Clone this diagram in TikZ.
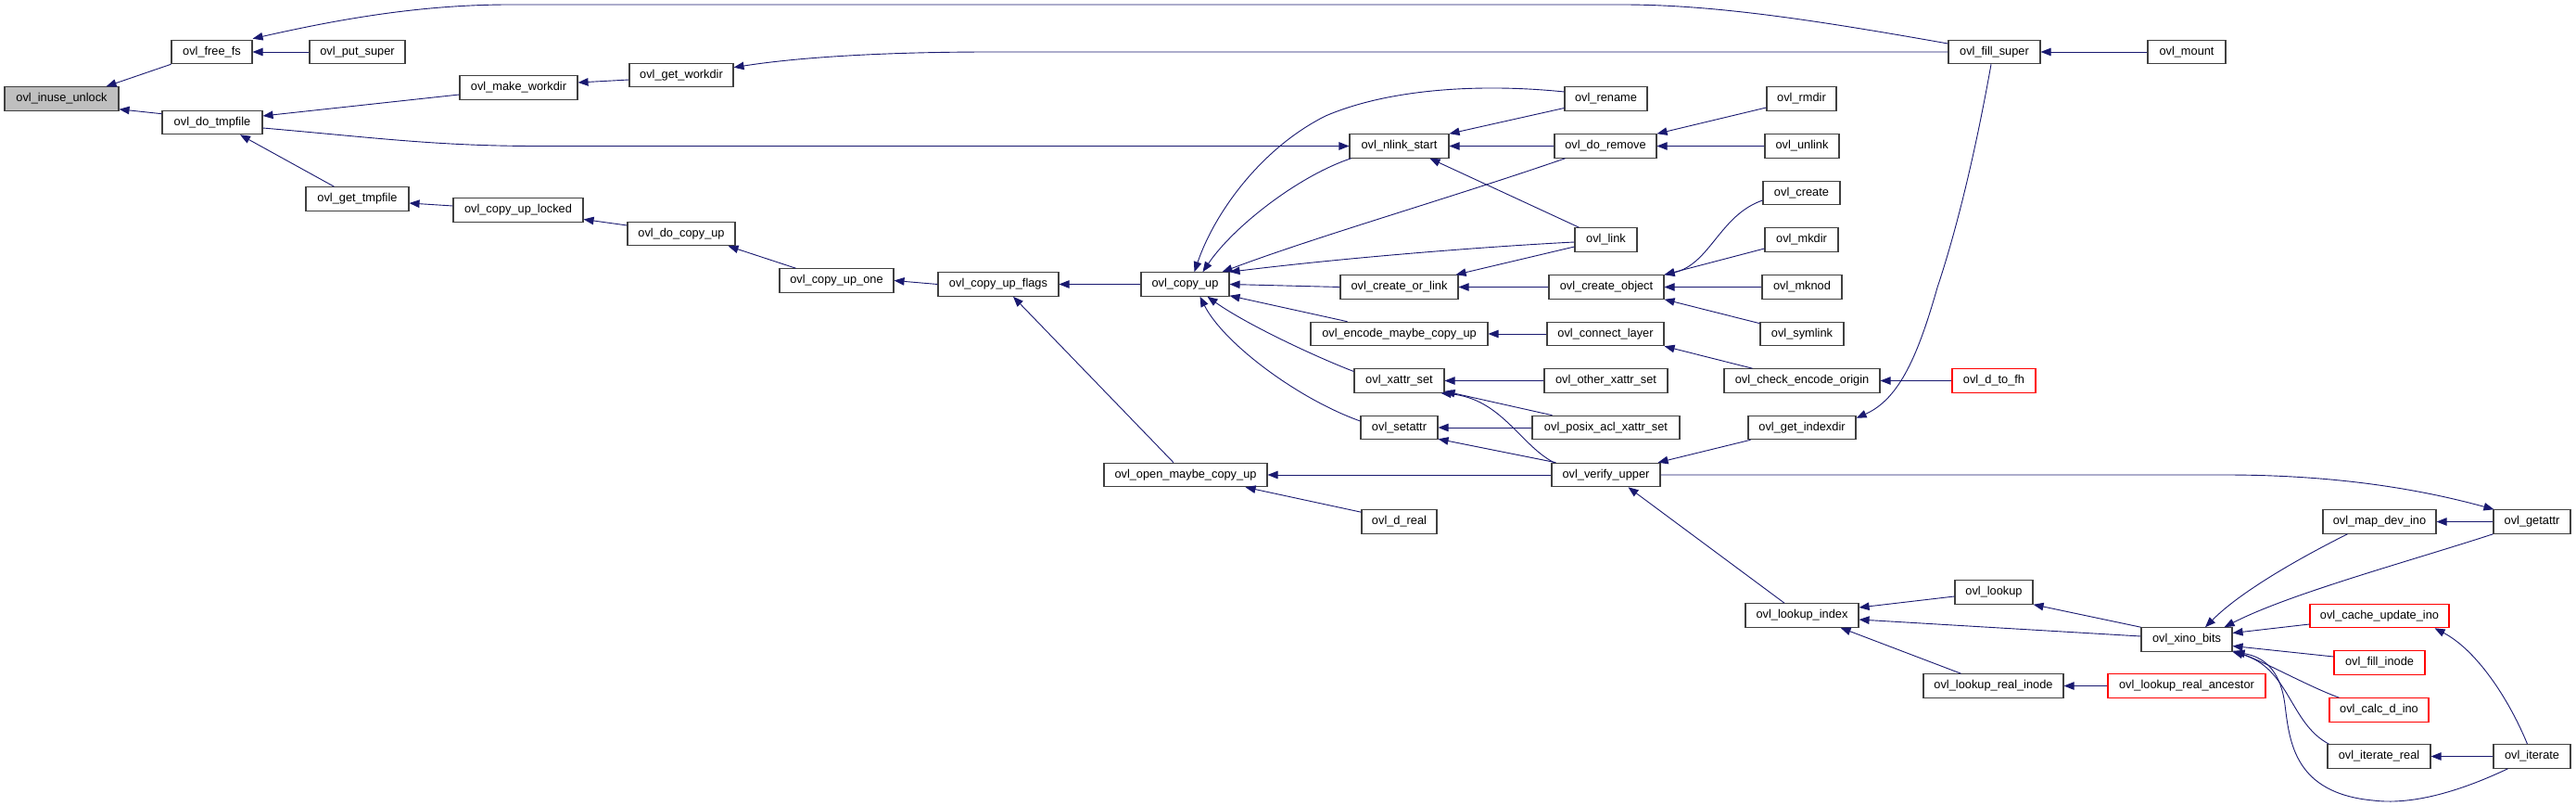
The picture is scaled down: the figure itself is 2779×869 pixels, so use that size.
\documentclass[tikz,border=0pt]{standalone}
\usepackage{fontspec}
\setmainfont{Liberation Sans}
\usetikzlibrary{arrows.meta,calc}
\definecolor{edgeblue}{RGB}{25,25,112}
\definecolor{boxline}{RGB}{64,64,64}
\definecolor{rootfill}{RGB}{191,191,191}
\begin{document}
\begin{tikzpicture}[x=1pt,y=-1pt,
 fn/.style={draw=boxline, line width=1.1pt, fill=white, minimum height=25.5pt, inner sep=0pt, font=\fontsize{12.8}{14}\selectfont},
 fnred/.style={fn, draw=red},
 fnroot/.style={fn, fill=rootfill},
 edge/.style={draw=edgeblue, line width=0.9pt, -{Triangle[length=11pt,width=8.5pt]}}
]
\fill[white] (0,0) rectangle (2779,869);
\useasboundingbox (0,0) rectangle (2779,869);

% nodes
\node[fnroot,minimum width=123pt] (inuse) at (66.5,106.5) {ovl\_inuse\_unlock};
\node[fn,minimum width=87pt] (freefs) at (228.5,56) {ovl\_free\_fs};
\node[fn,minimum width=103pt] (putsuper) at (385.5,56) {ovl\_put\_super};
\node[fn,minimum width=127pt] (makeworkdir) at (559.5,94.5) {ovl\_make\_workdir};
\node[fn,minimum width=108pt] (dotmpfile) at (229,132) {ovl\_do\_tmpfile};
\node[fn,minimum width=111pt] (gettmpfile) at (385.5,214.5) {ovl\_get\_tmpfile};
\node[fn,minimum width=140pt] (copyuplocked) at (559,226.5) {ovl\_copy\_up\_locked};
\node[fn,minimum width=112pt] (getworkdir) at (735,81) {ovl\_get\_workdir};
\node[fn,minimum width=116pt] (docopyup) at (735,252) {ovl\_do\_copy\_up};
\node[fn,minimum width=123pt] (copyupone) at (902.5,302.5) {ovl\_copy\_up\_one};
\node[fn,minimum width=130pt] (copyupflags) at (1077,306.5) {ovl\_copy\_up\_flags};
\node[fn,minimum width=95pt] (copyup) at (1278.5,306.5) {ovl\_copy\_up};
\node[fn,minimum width=176pt] (openmaybe) at (1279,512) {ovl\_open\_maybe\_copy\_up};
\node[fn,minimum width=107pt] (nlinkstart) at (1509.5,157.5) {ovl\_nlink\_start};
\node[fn,minimum width=89pt] (rename) at (1732.5,106.5) {ovl\_rename};
\node[fn,minimum width=110pt] (doremove) at (1732,157.5) {ovl\_do\_remove};
\node[fn,minimum width=67pt] (link) at (1732.5,258.5) {ovl\_link};
\node[fn,minimum width=127pt] (createorlink) at (1509.5,309.5) {ovl\_create\_or\_link};
\node[fn,minimum width=191pt] (encodemaybe) at (1509.5,360) {ovl\_encode\_maybe\_copy\_up};
\node[fn,minimum width=97pt] (xattrset) at (1509.5,410.5) {ovl\_xattr\_set};
\node[fn,minimum width=83pt] (setattr) at (1509.5,461) {ovl\_setattr};
\node[fn,minimum width=81pt] (dreal) at (1509.5,562.5) {ovl\_d\_real};
\node[fn,minimum width=124pt] (createobject) at (1733,309.5) {ovl\_create\_object};
\node[fn,minimum width=126pt] (connectlayer) at (1732,360) {ovl\_connect\_layer};
\node[fn,minimum width=133pt] (otherxattr) at (1732.5,410.5) {ovl\_other\_xattr\_set};
\node[fn,minimum width=159pt] (posixacl) at (1732.5,461) {ovl\_posix\_acl\_xattr\_set};
\node[fn,minimum width=117pt] (verifyupper) at (1732.5,512) {ovl\_verify\_upper};
\node[fn,minimum width=75pt] (rmdir) at (1943.5,106.5) {ovl\_rmdir};
\node[fn,minimum width=80pt] (unlink) at (1944,157.5) {ovl\_unlink};
\node[fn,minimum width=83pt] (create) at (1943.5,208) {ovl\_create};
\node[fn,minimum width=79pt] (mkdir) at (1943.5,258.5) {ovl\_mkdir};
\node[fn,minimum width=86pt] (mknod) at (1944,309.5) {ovl\_mknod};
\node[fn,minimum width=90pt] (symlink) at (1944,360) {ovl\_symlink};
\node[fn,minimum width=168pt] (checkencode) at (1944,410.5) {ovl\_check\_encode\_origin};
\node[fn,minimum width=116pt] (getindexdir) at (1944,461) {ovl\_get\_indexdir};
\node[fn,minimum width=122pt] (lookupindex) at (1944,663.5) {ovl\_lookup\_index};
\node[fn,minimum width=99pt] (fillsuper) at (2151.5,56) {ovl\_fill\_super};
\node[fn,minimum width=84pt] (mount) at (2359,56) {ovl\_mount};
\node[fnred,minimum width=90pt] (dtofh) at (2151,410.5) {ovl\_d\_to\_fh};
\node[fn,minimum width=84pt] (lookup) at (2151,638.5) {ovl\_lookup};
\node[fn,minimum width=151pt] (lookuprealinode) at (2150.5,739.5) {ovl\_lookup\_real\_inode};
\node[fn,minimum width=98pt] (xinobits) at (2359,689.5) {ovl\_xino\_bits};
\node[fnred,minimum width=170pt] (lookuprealancestor) at (2359,739.5) {ovl\_lookup\_real\_ancestor};
\node[fn,minimum width=122pt] (mapdevino) at (2567,562.5) {ovl\_map\_dev\_ino};
\node[fnred,minimum width=150pt] (cacheupdate) at (2567,664) {ovl\_cache\_update\_ino};
\node[fnred,minimum width=98pt] (fillinode) at (2567,714.5) {ovl\_fill\_inode};
\node[fnred,minimum width=107pt] (calcdino) at (2566.5,765.5) {ovl\_calc\_d\_ino};
\node[fn,minimum width=111pt] (iteratereal) at (2566.5,815.5) {ovl\_iterate\_real};
\node[fn,minimum width=83pt] (getattr) at (2731.5,562.5) {ovl\_getattr};
\node[fn,minimum width=83pt] (iterate) at (2731.5,815.5) {ovl\_iterate};

% edges (caller -> callee, tip at callee)
\draw[edge] (freefs.south west) -- ($(inuse.north east)+(-14,0)$);
\draw[edge] ($(dotmpfile.north west)+(0,4)$) -- ($(inuse.south east)+(0,-2)$);
\draw[edge] (putsuper.west) -- (freefs.east);
\draw[edge] ($(fillsuper.west)+(0,-9)$) .. controls (1960,22) and (1850,5) .. (1750,5) -- (550,5) .. controls (450,5) and (360,22) .. ($(freefs.north east)+(0,-1)$);
\draw[edge] ($(makeworkdir.west)+(0,7.5)$) -- ($(dotmpfile.east)+(0,-7)$);
\draw[edge] ($(dotmpfile.east)+(0,6)$) .. controls (400,148) and (470,157.5) .. (580,157.5) -- (nlinkstart.west);
\draw[edge] ($(gettmpfile.north west)+(31,0)$) -- ($(dotmpfile.south)+(30,0)$);
\draw[edge] ($(getworkdir.west)+(0,5)$) -- ($(makeworkdir.east)+(0,-5.5)$);
\draw[edge] (fillsuper.west) -- (1070,56) .. controls (950,56) and (860,62) .. ($(getworkdir.north east)+(0,5)$);
\draw[edge] ($(copyuplocked.west)+(0,-4.5)$) -- ($(gettmpfile.east)+(0,4.5)$);
\draw[edge] ($(docopyup.west)+(0,-9)$) -- ($(copyuplocked.east)+(0,10)$);
\draw[edge] ($(copyupone.north west)+(18,0)$) -- ($(docopyup.south east)+(-8,0)$);
\draw[edge] (copyupflags.west) -- (copyupone.east);
\draw[edge] (copyup.west) -- (copyupflags.east);
\draw[edge] ($(openmaybe.north)+(-13,0)$) -- ($(copyupflags.south)+(16,0)$);
\draw[edge] (mount.west) -- (fillsuper.east);

\draw[edge] ($(rename.west)+(0,-7.5)$) .. controls (1600,90) and (1500,95) .. (1430,125) .. controls (1360,160) and (1310,230) .. ($(copyup.north)+(10,0)$);
\draw[edge] ($(nlinkstart.south west)+(2,0)$) .. controls (1400,190) and (1330,245) .. ($(copyup.north)+(19,0)$);
\draw[edge] ($(doremove.south west)+(12,0)$) .. controls (1560,215) and (1420,255) .. ($(copyup.north east)+(-8,0)$);
\draw[edge] ($(link.west)+(0,2.5)$) .. controls (1600,266) and (1450,278) .. (copyup.north east);
\draw[edge] (createorlink.west) -- (copyup.east);
\draw[edge] ($(encodemaybe.north west)+(40,0)$) -- ($(copyup.south east)+(0,-1)$);
\draw[edge] ($(xattrset.west)+(0,-10)$) .. controls (1420,385) and (1345,350) .. ($(copyup.south)+(24,0)$);
\draw[edge] ($(setattr.west)+(0,-7)$) .. controls (1400,430) and (1320,370) .. ($(copyup.south)+(16,0)$);

\draw[edge] ($(rename.west)+(0,10)$) -- (nlinkstart.north east);
\draw[edge] (doremove.west) -- (nlinkstart.east);
\draw[edge] ($(link.north west)+(5,0)$) -- ($(nlinkstart.south)+(33,0)$);
\draw[edge] ($(rmdir.west)+(0,9.5)$) -- (doremove.north east);
\draw[edge] (unlink.west) -- (doremove.east);
\draw[edge] ($(link.west)+(0,7.5)$) -- ($(createorlink.north east)+(-3,0)$);
\draw[edge] (createobject.west) -- (createorlink.east);
\draw[edge] ($(create.west)+(0,8)$) .. controls (1855,232) and (1845,285) .. (createobject.north east);
\draw[edge] ($(mkdir.west)+(0,9.5)$) -- (createobject.north east);
\draw[edge] (mknod.west) -- (createobject.east);
\draw[edge] ($(symlink.north west)+(0,2)$) -- (createobject.south east);
\draw[edge] (connectlayer.west) -- (encodemaybe.east);
\draw[edge] ($(checkencode.north west)+(31,0)$) -- (connectlayer.south east);
\draw[edge] (dtofh.west) -- (checkencode.east);
\draw[edge] (otherxattr.west) -- (xattrset.east);
\draw[edge] ($(posixacl.north west)+(22,0)$) -- ($(xattrset.south east)+(0,-2)$);
\draw[edge] ($(verifyupper.north west)+(3,0)$) .. controls (1640,480) and (1620,430) .. ($(xattrset.south east)+(-4,0)$);
\draw[edge] (posixacl.west) -- (setattr.east);
\draw[edge] ($(verifyupper.north west)+(5,0)$) -- ($(setattr.south east)+(0,-1)$);
\draw[edge] (verifyupper.west) -- (openmaybe.east);
\draw[edge] ($(dreal.north west)+(0,3)$) -- ($(openmaybe.south east)+(-24,0)$);
\draw[edge] ($(getindexdir.south west)+(3,0)$) -- ($(verifyupper.north east)+(-3,0)$);
\draw[edge] ($(lookupindex.north)+(-19,0)$) -- ($(verifyupper.south)+(24,0)$);
\draw[edge] (verifyupper.east) -- (2400,512) .. controls (2530,512) and (2620,530) .. ($(getattr.north west)+(1,0)$);
\draw[edge] ($(fillsuper.south)+(-3.5,0)$) .. controls (2130,170) and (2110,250) .. (2090,310) .. controls (2070,380) and (2050,430) .. ($(getindexdir.north east)+(0,3)$);

\draw[edge] ($(lookup.west)+(0,4.5)$) -- ($(lookupindex.east)+(0,-8.5)$);
\draw[edge] ($(xinobits.west)+(0,-3.5)$) -- ($(lookupindex.east)+(0,4.5)$);
\draw[edge] ($(lookuprealinode.north)+(-35,0)$) -- ($(lookupindex.south east)+(-20,0)$);
\draw[edge] (xinobits.north west) -- (lookup.south east);
\draw[edge] (lookuprealancestor.west) -- (lookuprealinode.east);
\draw[edge] ($(mapdevino.south west)+(27,0)$) .. controls (2490,597) and (2420,635) .. ($(xinobits.north)+(20,0)$);
\draw[edge] (getattr.south west) .. controls (2600,605) and (2470,640) .. ($(xinobits.north east)+(-9,0)$);
\draw[edge] ($(cacheupdate.west)+(0,9)$) -- ($(xinobits.east)+(0,-7)$);
\draw[edge] ($(fillinode.west)+(0,-6.5)$) -- ($(xinobits.east)+(0,7)$);
\draw[edge] ($(calcdino.north west)+(11,0)$) .. controls (2490,740) and (2440,712) .. ($(xinobits.south east)+(0,-1)$);
\draw[edge] ($(iteratereal.north west)+(2,0)$) .. controls (2470,780) and (2470,720) .. (xinobits.south east);
\draw[edge] ($(iterate.south west)+(16,0)$) .. controls (2650,855) and (2600,868) .. (2560,863) .. controls (2475,855) and (2470,800) .. (2465,760) .. controls (2460,720) and (2440,708) .. ($(xinobits.south east)+(2,0)$);
\draw[edge] (getattr.west) -- (mapdevino.east);
\draw[edge] ($(iterate.north)+(-5,0)$) .. controls (2705,750) and (2670,700) .. ($(cacheupdate.south east)+(-16,0)$);
\draw[edge] (iterate.west) -- (iteratereal.east);
\end{tikzpicture}
\end{document}
